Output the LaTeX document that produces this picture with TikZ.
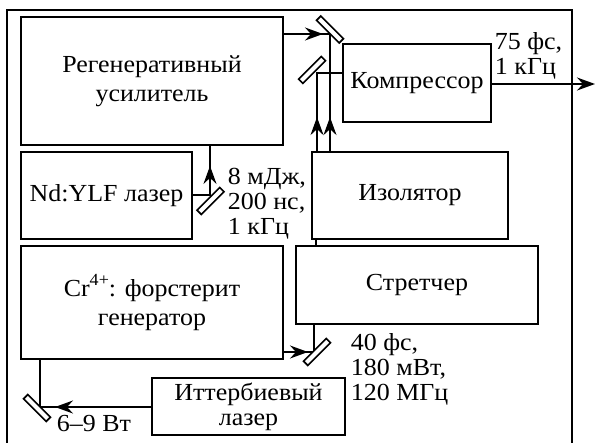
\documentclass[tikz,border=0pt]{standalone}
\usepackage{fontspec}
\setmainfont[FakeStretch=1.06]{Liberation Serif}
\usetikzlibrary{arrows.meta,decorations.markings}
\begin{document}
\begin{tikzpicture}[x=1pt,y=-1pt,line width=1.8pt,
  box/.style={draw,inner sep=0pt,align=center,font=\fontsize{24.5}{29}\selectfont},
  lbl/.style={inner sep=0pt,anchor=base west,font=\fontsize{24.5}{25}\selectfont},
  mirror/.style={draw,fill=white,minimum width=32pt,minimum height=6pt,inner sep=0pt,line width=1.6pt},
  tip/.style={decoration={markings,mark=at position #1 with {\arrow{Stealth[length=18pt,width=13pt,inset=6pt]}}},postaction={decorate}}]
\useasboundingbox (0,0) rectangle (596,443);
% outer frame
\coordinate (fbl) at (7,443);
\coordinate (ftl) at (7,10);
\coordinate (ftr) at (572,10);
\coordinate (fbr) at (572,443);
\draw (fbl) -- (ftl) -- (ftr) -- (fbr);
% boxes
\node[box,minimum width=262pt,minimum height=128pt] (regen) at (152,81) {Регенеративный\\усилитель};
\node[box,minimum width=148pt,minimum height=78pt] (comp) at (417,83) {Компрессор};
\node[box,minimum width=171pt,minimum height=87pt] (nd) at (106.5,195.5) {Nd:YLF лазер};
\node[box,minimum width=196pt,minimum height=87pt] (izo) at (410,195.5) {Изолятор};
\node[box,minimum width=262pt,minimum height=113pt] (cr) at (152,302.5) {Cr\raisebox{0.42em}{\fontsize{17}{17}\selectfont 4+}: форстерит\\генератор};
\node[box,minimum width=242pt,minimum height=78pt] (str) at (417,285) {Стретчер};
\node[box,minimum width=193pt,minimum height=57pt,font=\fontsize{24.5}{25}\selectfont] (yb) at (248.5,406.5) {Иттербиевый\\лазер};
% junctions
\coordinate (j1) at (330,34);
\coordinate (j2) at (317,73);
\coordinate (j3) at (210,195);
\coordinate (j4) at (314,352);
\coordinate (j5) at (40,407);
\coordinate (out) at (595,84);
% beams
\draw[tip=-7pt] (regen.east |- j1) -- (j1);
\draw[tip=34pt] (izo.north -| j1) -- (j1);
\draw[tip=34pt] (izo.north -| j2) -- (j2) -- (comp.west |- j2);
\draw[tip=-20pt] (nd.east |- j3) -- (j3) -- (regen.south -| j3);
\draw[-{Stealth[length=18pt,width=13pt,inset=6pt]}] (comp.east |- out) -- (out);
\draw (izo.south -| 316,0) -- (str.north -| 316,0);
\draw[tip=-6pt] (cr.east |- j4) -- (j4);
\draw (j4) -- (str.south -| j4);
\draw (cr.south -| j5) -- (j5);
\draw[tip=-15pt] (yb.west |- j5) -- (j5);
% mirrors
\node[mirror,rotate=-45] (m1) at (330,29.5) {};
\node[mirror,rotate=45] (m2) at (312,70) {};
\node[mirror,rotate=45] (m3) at (210.5,201) {};
\node[mirror,rotate=45] (m4) at (317,352) {};
\node[mirror,rotate=-45] (m5) at (37,408) {};
% labels
\node[lbl] (l1) at (494,50) {\begin{tabular}[t]{@{}l@{}}75 фс,\\1 кГц\end{tabular}};
\node[lbl] (l2) at (227,185) {\begin{tabular}[t]{@{}l@{}}8 мДж,\\200 нс,\\1 кГц\end{tabular}};
\node[lbl] (l3) at (350,350) {\begin{tabular}[t]{@{}l@{}}40 фс,\\180 мВт,\\120 МГц\end{tabular}};
\node[lbl] (l4) at (56,431) {6–9 Вт};
\end{tikzpicture}
\end{document}
